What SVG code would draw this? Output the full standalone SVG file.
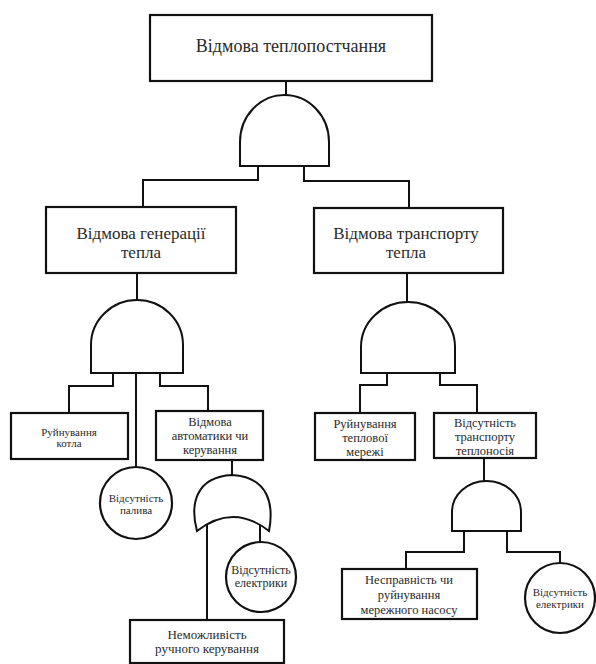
<svg xmlns="http://www.w3.org/2000/svg" width="596" height="664" viewBox="0 0 596 664">
<style>
.box{fill:#fff;stroke:#111;stroke-width:2.2}
.gate{fill:#fff;stroke:#111;stroke-width:2}
.ln{fill:none;stroke:#111;stroke-width:2}
.tx{fill:#2a2a2a;text-anchor:middle}
.t18{font-size:18px}
.t17{font-size:17px}
.t13{font-size:13px}
.t125{font-size:12.5px}
.t12{font-size:12px}
.t11{font-size:11px}
</style>
<rect width="596" height="664" fill="#fff"/>
<g id="connectors">
<path class="ln" d="M286,81V95"/>
<path class="ln" d="M258,166V180H143V207"/>
<path class="ln" d="M304,166V181H409V208"/>
<path class="ln" d="M137,273V300"/>
<path class="ln" d="M113,373V386H69V413"/>
<path class="ln" d="M136,373V467"/>
<path class="ln" d="M160,373V386H208V411"/>
<path class="ln" d="M232,460V475"/>
<path class="ln" d="M207,524V620"/>
<path class="ln" d="M260,523V542"/>
<path class="ln" d="M407,273V302"/>
<path class="ln" d="M387,373V385H360V413"/>
<path class="ln" d="M440,373V385H477V413"/>
<path class="ln" d="M484,458V481"/>
<path class="ln" d="M464,531V552H406V569"/>
<path class="ln" d="M507,531V552H560V563"/>
</g>
<g font-family="Liberation Serif, Times New Roman, serif">
<g id="top">
<rect class="box" x="150" y="15" width="282" height="66" stroke-width="3"/>
<text class="tx t18" x="291" y="52">Відмова теплопостчання</text>
</g>
<g id="and1"><path class="gate" d="M240,142A44.5,47 0 0 1 329,142V166H240Z"/></g>
<g id="gen">
<rect class="box" x="46" y="207" width="190" height="66"/>
<text class="tx t17" x="141" y="239">Відмова генерації</text>
<text class="tx t17" x="141" y="258">тепла</text>
</g>
<g id="trans">
<rect class="box" x="314" y="208" width="189" height="65"/>
<text class="tx t17" x="406" y="239">Відмова транспорту</text>
<text class="tx t17" x="406" y="258">тепла</text>
</g>
<g id="and2"><path class="gate" d="M91,345A46,45 0 0 1 183,345V373H91Z"/></g>
<g id="and3"><path class="gate" d="M361,347A47,45 0 0 1 455,347V373H361Z"/></g>
<g id="kotla">
<rect class="box" x="11" y="413" width="117" height="46"/>
<text class="tx t11" x="69" y="436">Руйнування</text>
<text class="tx t11" x="69" y="447">котла</text>
</g>
<g id="palyva">
<circle class="box" cx="136" cy="503" r="36"/>
<text class="tx t11" x="136" y="502">Відсутність</text>
<text class="tx t11" x="136" y="514">палива</text>
</g>
<g id="auto">
<rect class="box" x="156" y="411" width="107" height="49"/>
<text class="tx t125" x="210" y="426">Відмова</text>
<text class="tx t125" x="210" y="440">автоматики чи</text>
<text class="tx t125" x="210" y="454">керування</text>
</g>
<g id="or1"><path class="gate" d="M197,531C190,505 195,477 232,475C269,477 274,505 269,531Q233,503 197,531Z"/></g>
<g id="elektryky1">
<circle class="box" cx="261" cy="577" r="35"/>
<text class="tx t12" x="261" y="574">Відсутність</text>
<text class="tx t12" x="261" y="587">електрики</text>
</g>
<g id="ruchne">
<rect class="box" x="130" y="620" width="154" height="43"/>
<text class="tx t13" x="207" y="639">Неможливість</text>
<text class="tx t13" x="207" y="653">ручного керування</text>
</g>
<g id="merezha">
<rect class="box" x="315" y="413" width="100" height="47"/>
<text class="tx t125" x="365" y="428">Руйнування</text>
<text class="tx t125" x="365" y="442">теплової</text>
<text class="tx t125" x="365" y="456">мережі</text>
</g>
<g id="teplonosiy">
<rect class="box" x="434" y="413" width="102" height="45"/>
<text class="tx t125" x="485" y="427">Відсутність</text>
<text class="tx t125" x="485" y="441">транспорту</text>
<text class="tx t125" x="485" y="455">теплоносія</text>
</g>
<g id="and4"><path class="gate" d="M452,512A34.5,31 0 0 1 521,512V531H452Z"/></g>
<g id="nasos">
<rect class="box" x="342" y="569" width="135" height="50"/>
<text class="tx t125" x="409" y="584">Несправність чи</text>
<text class="tx t125" x="409" y="599">руйнування</text>
<text class="tx t125" x="409" y="614">мережного насосу</text>
</g>
<g id="elektryky2">
<circle class="box" cx="560" cy="598" r="35"/>
<text class="tx t11" x="560" y="596">Відсутність</text>
<text class="tx t11" x="560" y="608">електрики</text>
</g>
</g>
</svg>
